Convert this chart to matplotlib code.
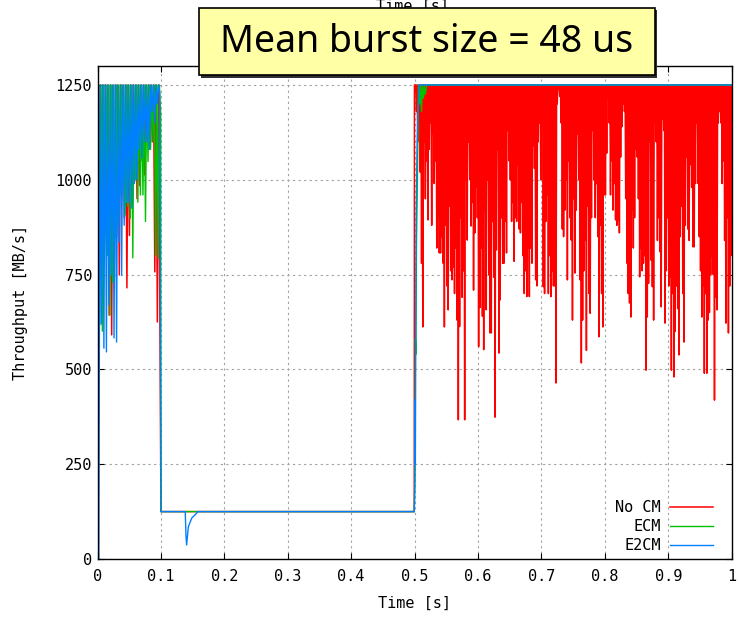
import numpy as np
import matplotlib.pyplot as plt
from matplotlib.patches import Rectangle

# link rate [MB/s]
LINK = 1250

# 0 - 0.1 s: troughs between full-rate peaks (one every 4 ms per flow)
EARLY_STEP = 0.002
red_dips_early = [760, 1083, 784, 900, 643, 591, 715, 850, 749, 950,
                  900, 715, 853, 1050, 994, 950, 985, 1050, 1013, 1100,
                  1150, 1100, 757, 625, 635]
green_dips_early = [617, 601, 1000, 800, 643, 731, 845, 880, 960, 1030,
                    907, 930, 899, 794, 1000, 941, 960, 960, 890, 1048,
                    1080, 1100, 802, 794, 1170]
blue_dips_early = [0, 620, 556, 546, 670, 749, 583, 572, 836, 749,
                   880, 940, 941, 925, 990, 1000, 1080, 1057, 1100, 1100,
                   1080, 1180, 1150, 1200, 1230]

# 0.1 - 0.5 s: congested plateau
PLATEAU = 125
blue_dip_t = [0.1383, 0.1395, 0.1405, 0.1432, 0.1486, 0.1564, 0.158]
blue_dip_v = [125, 60, 37, 85, 108, 121, 125]

# 0.5 - 1.0 s
LATE_STEP = 0.001
red_dips_late = [1250, 1180, 1100, 1150, 1020, 780, 612, 1100, 950, 1050,
                 894, 1080, 1150, 880, 1120, 990, 1050, 820, 900, 807,
                 807, 850, 780, 612, 880, 720, 657, 930, 760, 736,
                 770, 700, 820, 630, 367, 613, 900, 690, 760, 367,
                 1000, 841, 1100, 1000, 878, 940, 709, 860, 980, 900,
                 560, 663, 820, 640, 552, 920, 657, 1000, 750, 596,
                 596, 890, 743, 374, 815, 1080, 543, 683, 900, 780,
                 780, 890, 807, 1130, 1050, 1000, 890, 940, 785, 900,
                 890, 1040, 870, 860, 940, 800, 700, 760, 692, 820,
                 692, 820, 780, 1090, 1030, 736, 720, 1100, 1150, 1000,
                 1150, 718, 700, 890, 960, 700, 800, 692, 760, 720,
                 720, 464, 1200, 1240, 1220, 1150, 870, 850, 920, 1000,
                 736, 1050, 900, 841, 630, 950, 754, 920, 1120, 1000,
                 736, 517, 630, 760, 840, 550, 930, 700, 648, 900,
                 1130, 1000, 900, 990, 850, 586, 880, 700, 612, 960,
                 960, 1070, 1220, 1150, 960, 1050, 920, 990, 894, 880,
                 894, 860, 1060, 1140, 1200, 1180, 950, 780, 700, 675,
                 638, 920, 820, 900, 1080, 1060, 950, 744, 820, 760,
                 780, 800, 498, 638, 727, 1100, 788, 718, 630, 1150,
                 1100, 840, 900, 810, 665, 1160, 1130, 622, 760, 900,
                 720, 744, 498, 700, 480, 600, 720, 660, 538, 850,
                 930, 700, 572, 880, 1060, 870, 840, 1040, 980, 823,
                 823, 990, 1150, 990, 850, 760, 638, 720, 490, 700,
                 490, 630, 650, 750, 800, 750, 419, 690, 657, 1150,
                 1180, 1150, 990, 1050, 840, 622, 900, 596, 720, 800]
green_late_t = [0.4995, 0.5003, 0.5008, 0.5013, 0.502, 0.503, 0.5045, 0.506, 0.508,
                0.509, 0.511, 0.512, 0.514, 0.515, 0.517, 0.519, 1.0]
green_late_v = [125, 190, 250, 580, 540, 830, 1000, 1250, 1200,
                1250, 1180, 1250, 1215, 1250, 1225, 1250, 1250]
blue_late_t = [0.4995, 0.5003, 0.5008, 0.5012, 0.5018, 0.5025, 0.504, 0.507, 1.0]
blue_late_v = [125, 200, 420, 250, 560, 900, 1100, 1250, 1250]


def spikes(t0, dips, step):
    """peak at LINK, then trough, repeated"""
    n = len(dips)
    t = t0 + np.arange(2 * n) * step
    v = np.empty(2 * n)
    v[0::2] = LINK
    v[1::2] = dips
    return t, v


def series(early, phase, mid_t, mid_v, late_t, late_v, start=None):
    t1, v1 = spikes(phase, early, EARLY_STEP)
    ts = [t1, [0.1], mid_t, [0.4995], late_t]
    vs = [v1, [PLATEAU], mid_v, [PLATEAU], late_v]
    if start is not None:
        ts.insert(0, [0.0])
        vs.insert(0, [start])
    return np.concatenate(ts), np.concatenate(vs)


t_red_late, v_red_late = spikes(0.5, red_dips_late, LATE_STEP)
red_t, red_v = series(red_dips_early, 0.0003, [], [], np.r_[0.4998, t_red_late, 1.0],
                      np.r_[LINK, v_red_late, LINK], start=1268)
green_t, green_v = series(green_dips_early, 0.0016, [], [], green_late_t, green_late_v)
blue_t, blue_v = series(blue_dips_early, 0.0, blue_dip_t, blue_dip_v, blue_late_t, blue_late_v)

plt.rcParams['font.family'] = 'DejaVu Sans Mono'
fig = plt.figure(figsize=(7.39, 6.17), dpi=100)
ax = fig.add_axes([0.132, 0.094, 0.858, 0.799])

ax.plot(red_t, red_v, color='#ff0000', lw=1.1, label='No CM')
ax.plot(green_t, green_v, color='#00c000', lw=1.0, label='ECM')
ax.plot(blue_t, blue_v, color='#0080ff', lw=1.0, label='E2CM')

ax.set_xlim(0, 1)
ax.set_ylim(0, 1300)
ax.set_xticks(np.arange(0, 1.01, 0.1))
ax.set_xticklabels(['0', '0.1', '0.2', '0.3', '0.4', '0.5', '0.6', '0.7', '0.8', '0.9', '1'])
ax.set_yticks(np.arange(0, 1251, 250))
ax.tick_params(direction='in', length=4.5, top=True, right=True, labelsize=11, pad=7)
ax.tick_params(axis='y', pad=4)
ax.grid(True, color='#a0a0a0', linestyle=(0, (2, 3)), lw=0.8)
for s in ax.spines.values():
    s.set_linewidth(1.0)

ax.set_xlabel('Time [s]', fontsize=11)
ax.xaxis.set_label_coords(0.5, -0.075)
ax.set_ylabel('Throughput [MB/s]', fontsize=11)
ax.yaxis.set_label_coords(-0.11, 0.52)

ax.legend(loc='lower right', bbox_to_anchor=(0.971, 0.012), frameon=False, markerfirst=False,
          fontsize=11, handlelength=2.8, handletextpad=0.65, labelspacing=0.25,
          borderpad=0, borderaxespad=0)

# gnuplot top label, hidden behind the banner
fig.text(0.558, 0.99, 'Time [s]', ha='center', va='center', fontsize=11, zorder=1)

# banner
x0, y0, w, h = 0.269, 0.878, 0.617, 0.109
fig.patches.append(Rectangle((x0 + 0.003, y0 - 0.004), w, h, transform=fig.transFigure,
                             facecolor='#303030', edgecolor='none', zorder=4))
fig.patches.append(Rectangle((x0, y0), w, h, transform=fig.transFigure,
                             facecolor='#ffffa5', edgecolor='black', lw=1.2, zorder=5))
fig.text(x0 + w / 2, y0 + h / 2, 'Mean burst size = 48 us', ha='center', va='center',
         fontsize=27, family='Noto Sans', zorder=6)

fig.savefig('out.png', dpi=100)
